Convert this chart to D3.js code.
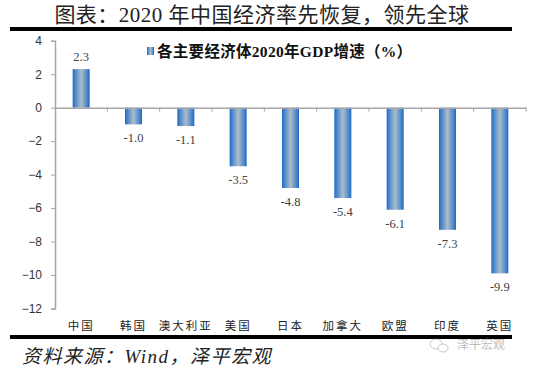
<!DOCTYPE html>
<html>
<head>
<meta charset="utf-8">
<script src="https://cdn.jsdelivr.net/npm/d3@7"></script>
<style>
  body { margin: 0; background: #fff; }
  svg { display: block; }
</style>
</head>
<body>
<div id="chart"></div>
<script>
const countries = ['中国', '韩国', '澳大利亚', '美国', '日本', '加拿大', '欧盟', '印度', '英国'];
const growth = [2.3, -1.0, -1.1, -3.5, -4.8, -5.4, -6.1, -7.3, -9.9];
const yTicks = [4, 2, 0, -2, -4, -6, -8, -10, -12];

const titleText = '图表：2020 年中国经济率先恢复，领先全球';
const legendText = '各主要经济体2020年GDP增速（%）';
const sourceText = '资料来源：Wind，泽平宏观';

const cjkSerif = '"Liberation Serif", "Noto Sans CJK SC", serif';

const W = 550, H = 369;
const svg = d3.select('#chart').append('svg').attr('width', W).attr('height', H);

// gradient for bars
const grad = svg.append('defs').append('linearGradient')
  .attr('id', 'barGrad').attr('x1', '0%').attr('x2', '100%').attr('y1', '0%').attr('y2', '0%');
grad.append('stop').attr('offset', '0%').attr('stop-color', '#1c67c2');
grad.append('stop').attr('offset', '12%').attr('stop-color', '#4282ca');
grad.append('stop').attr('offset', '50%').attr('stop-color', '#adbccb');
grad.append('stop').attr('offset', '88%').attr('stop-color', '#4282ca');
grad.append('stop').attr('offset', '100%').attr('stop-color', '#1c67c2');

// title
svg.append('text')
  .attr('x', 262).attr('y', 22)
  .attr('text-anchor', 'middle')
  .style('font-family', cjkSerif).style('font-size', '21px').style('fill', '#222')
  .style('letter-spacing', '0.5px')
  .text(titleText);

svg.append('rect').attr('x', 10).attr('y', 27).attr('width', 502).attr('height', 4).attr('fill', '#000');
svg.append('rect').attr('x', 10).attr('y', 335).attr('width', 502).attr('height', 4).attr('fill', '#000');

const x = d3.scaleBand().domain(countries).range([55, 526]).padding(0);
const y = d3.scaleLinear().domain([-12, 4]).range([308.5, 40.7]);
const barW = 17;

// y axis
const yAxis = svg.append('g')
  .attr('transform', 'translate(55,0)')
  .call(d3.axisLeft(y).tickValues(yTicks).tickSize(4).tickPadding(9).tickFormat(d3.format('d')));
yAxis.select('.domain').attr('stroke', '#a6a6a6').attr('stroke-width', 1.5);
yAxis.selectAll('.tick line').attr('stroke', '#a6a6a6').attr('stroke-width', 1);
yAxis.selectAll('.tick text')
  .style('font-family', '"Liberation Sans", Arial, sans-serif').style('font-size', '12px').style('fill', '#333');

// bars
svg.append('g').selectAll('rect')
  .data(countries)
  .enter()
  .append('rect')
  .attr('x', (d) => x(d) + x.bandwidth() / 2 - barW / 2)
  .attr('y', (d, i) => y(Math.max(0, growth[i])))
  .attr('width', barW)
  .attr('height', (d, i) => Math.abs(y(growth[i]) - y(0)))
  .attr('fill', 'url(#barGrad)');

// zero axis with category ticks
const xAxis = svg.append('g')
  .attr('transform', `translate(0,${y(0)})`)
  .call(d3.axisBottom(x).tickSize(0).tickFormat(''));
xAxis.select('.domain').attr('stroke', '#a6a6a6').attr('stroke-width', 1.5);
xAxis.selectAll('.tick').remove();
xAxis.selectAll('line.sep')
  .data(countries.slice(1).concat(['end']))
  .enter()
  .append('line')
  .attr('class', 'sep')
  .attr('x1', (d, i) => (i < countries.length - 1 ? x(d) : x.range()[1]))
  .attr('x2', (d, i) => (i < countries.length - 1 ? x(d) : x.range()[1]))
  .attr('y1', 0).attr('y2', 4)
  .attr('stroke', '#a6a6a6').attr('stroke-width', 1);

// value labels
svg.append('g').selectAll('text')
  .data(countries)
  .enter()
  .append('text')
  .attr('x', (d) => x(d) + x.bandwidth() / 2)
  .attr('y', (d, i) => (growth[i] >= 0 ? y(growth[i]) - 8 : y(growth[i]) + 18))
  .attr('text-anchor', 'middle')
  .style('font-family', '"Liberation Serif", "Times New Roman", serif').style('font-size', '12.5px').style('fill', '#404040')
  .text((d, i) => growth[i].toFixed(1));

// category labels
svg.append('g').selectAll('text')
  .data(countries)
  .enter()
  .append('text')
  .attr('x', (d) => x(d) + x.bandwidth() / 2)
  .attr('y', 330)
  .attr('text-anchor', 'middle')
  .style('font-family', '"Noto Sans CJK SC", sans-serif').style('font-size', '11.5px').style('fill', '#222')
  .style('letter-spacing', '2px')
  .text((d) => d);

// legend
svg.append('rect').attr('x', 147).attr('y', 47).attr('width', 7).attr('height', 8).attr('fill', 'url(#barGrad)');
svg.append('text')
  .attr('x', 157).attr('y', 57)
  .style('font-family', cjkSerif).style('font-size', '15.5px').style('font-weight', 'bold').style('fill', '#111')
  .style('letter-spacing', '0.3px')
  .text(legendText);

// source
svg.append('text')
  .attr('x', 22).attr('y', 363)
  .style('font-family', cjkSerif).style('font-size', '19px').style('font-style', 'italic').style('fill', '#222')
  .style('letter-spacing', '1.5px')
  .text(sourceText);

// watermark
const wm = svg.append('g').attr('opacity', 0.55);
wm.append('ellipse').attr('cx', 436).attr('cy', 344).attr('rx', 6).attr('ry', 5)
  .attr('fill', 'none').attr('stroke', '#999').attr('stroke-width', 1);
wm.append('ellipse').attr('cx', 443).attr('cy', 348).attr('rx', 5).attr('ry', 4)
  .attr('fill', '#fff').attr('stroke', '#999').attr('stroke-width', 1);
wm.append('text')
  .attr('x', 457).attr('y', 349)
  .style('font-family', '"Noto Sans CJK SC", sans-serif').style('font-size', '12px').style('fill', '#888')
  .text('泽平宏观');
</script>
</body>
</html>
